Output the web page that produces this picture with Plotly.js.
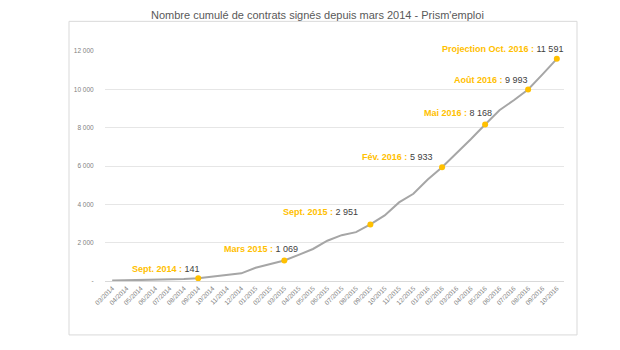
<!DOCTYPE html>
<html>
<head>
<meta charset="utf-8">
<script src="https://cdn.plot.ly/plotly-3.0.1.min.js"></script>
<style>html,body{margin:0;padding:0;background:#fff;}#chart{width:620px;height:350px;}</style>
</head>
<body>
<div id="chart"></div>
<script>
// ---- data ----
var months = ["03/2014","04/2014","05/2014","06/2014","07/2014","08/2014","09/2014","10/2014","11/2014","12/2014",
  "01/2015","02/2015","03/2015","04/2015","05/2015","06/2015","07/2015","08/2015","09/2015","10/2015","11/2015","12/2015",
  "01/2016","02/2016","03/2016","04/2016","05/2016","06/2016","07/2016","08/2016","09/2016","10/2016"];
var contracts = [20, 30, 40, 55, 75, 100, 141, 230, 330, 400,
  690, 880, 1069, 1360, 1670, 2100, 2390, 2550, 2951, 3420, 4100, 4550,
  5300, 5933, 6650, 7400, 8168, 8910, 9430, 9993, 10780, 11591];
var highlightIdx = [6, 12, 18, 23, 26, 29, 31];
var highlightNames = ["Sept. 2014 :", "Mars 2015 :", "Sept. 2015 :", "Fév. 2016 :", "Mai 2016 :", "Août 2016 :", "Projection Oct. 2016 :"];
var yTickVals = [0, 2000, 4000, 6000, 8000, 10000, 12000];
var yTickText = ["-", "2 000", "4 000", "6 000", "8 000", "10 000", "12 000"];
var title = "Nombre cumulé de contrats signés depuis mars 2014 - Prism'emploi";

// ---- styling ----
var GOLD = "#FFC000";
var labelShift = [[4, 9], [16, 12], [-10, 12], [-8, 10], [9, 11], [2, 9], [8, 10]];

function fmt(n) { return String(n).replace(/\B(?=(\d{3})+(?!\d))/g, " "); }

var lineTrace = {
  x: months, y: contracts, type: "scatter", mode: "lines",
  line: { color: "#A6A6A6", width: 2 }, hoverinfo: "skip"
};
var ptTrace = {
  x: highlightIdx.map(function (i) { return months[i]; }),
  y: highlightIdx.map(function (i) { return contracts[i]; }),
  type: "scatter", mode: "markers",
  marker: { color: GOLD, size: 6 }, hoverinfo: "skip"
};

var annotations = highlightIdx.map(function (i, k) {
  return {
    x: months[i], y: contracts[i], xref: "x", yref: "y",
    text: '<b><span style="color:' + GOLD + '">' + highlightNames[k] + ' </span></b><span style="color:#404040">' + fmt(contracts[i]) + '</span>',
    showarrow: false, xanchor: "right", yanchor: "middle",
    xshift: labelShift[k][0], yshift: labelShift[k][1],
    font: { family: "Liberation Sans, sans-serif", size: 9, color: "#404040" }
  };
});
annotations.push({
  text: title, xref: "paper", yref: "paper", x: 0.462, y: 1.155,
  xanchor: "center", yanchor: "middle", showarrow: false,
  font: { family: "Liberation Sans, Arial, sans-serif", size: 11, color: "#595959" }
});

var L = 105, R = 564, T = 50.7, B = 281;
var pw = R - L, ph = B - T;
var layout = {
  width: 620, height: 350,
  margin: { l: L, r: 620 - R, t: T, b: 350 - B, pad: 0 },
  paper_bgcolor: "#ffffff", plot_bgcolor: "#ffffff",
  showlegend: false,
  xaxis: {
    type: "category", range: [-0.5, months.length - 0.5],
    showgrid: false, zeroline: false, showline: true, linecolor: "#D9D9D9", linewidth: 1,
    tickangle: -45, ticks: "", tickfont: { family: "Liberation Sans, sans-serif", size: 6.5, color: "#7F7F7F" },
    fixedrange: true
  },
  yaxis: {
    range: [0, 12000], tickvals: yTickVals, ticktext: yTickText,
    showgrid: true, gridcolor: "#E6E6E6", gridwidth: 1, zeroline: false, showline: false,
    ticks: "outside", ticklen: 9, tickcolor: "rgba(0,0,0,0)",
    tickfont: { family: "Liberation Sans, sans-serif", size: 6.5, color: "#7F7F7F" },
    fixedrange: true
  },
  annotations: annotations,
  shapes: [{
    type: "rect", xref: "paper", yref: "paper",
    x0: (69 - L) / pw, x1: (577 - L) / pw,
    y0: (B - 335) / ph, y1: (B - 21) / ph,
    line: { color: "#D9D9D9", width: 1 }, fillcolor: "rgba(0,0,0,0)", layer: "below"
  }]
};

Plotly.newPlot("chart", [lineTrace, ptTrace], layout, { staticPlot: true, displayModeBar: false });
</script>
</body>
</html>
